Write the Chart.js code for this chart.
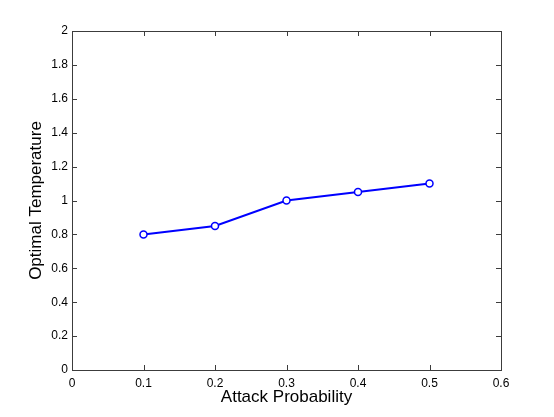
<!DOCTYPE html>
<html>
<head>
<meta charset="utf-8">
<script src="https://cdn.jsdelivr.net/npm/chart.js@4"></script>
<style>
    body { margin: 0; background: #fff; }
    #wrap { width: 554px; height: 417px; position: relative; }
</style>
</head>
<body>
<div id="wrap"><canvas id="chart"></canvas></div>
<script>
// Data
const attackProb = [0.1, 0.2, 0.3, 0.4, 0.5];
const optimalTemp = [0.8, 0.85, 1.0, 1.05, 1.1];

// Tick values and labels
const xTicks = [0, 0.1, 0.2, 0.3, 0.4, 0.5, 0.6];
const xTickLabels = ['0', '0.1', '0.2', '0.3', '0.4', '0.5', '0.6'];
const yTicks = [0, 0.2, 0.4, 0.6, 0.8, 1, 1.2, 1.4, 1.6, 1.8, 2];
const yTickLabels = ['0', '0.2', '0.4', '0.6', '0.8', '1', '1.2', '1.4', '1.6', '1.8', '2'];

const FONT = 'Liberation Sans, Arial, Helvetica, sans-serif';

// Box around the plot and MATLAB style inward ticks
const matlabBox = {
    id: 'matlabBox',
    afterDraw(chart) {
        const ctx = chart.ctx;
        const a = chart.chartArea;
        const xs = chart.scales.x;
        const ys = chart.scales.y;
        const len = 5;
        ctx.save();
        ctx.strokeStyle = '#3c3c3c';
        ctx.lineWidth = 1;
        ctx.beginPath();
        xTicks.forEach(function (v) {
            const px = Math.round(xs.getPixelForValue(v)) + 0.5;
            ctx.moveTo(px, a.bottom);
            ctx.lineTo(px, a.bottom - len);
            ctx.moveTo(px, a.top);
            ctx.lineTo(px, a.top + len);
        });
        yTicks.forEach(function (v) {
            const py = Math.round(ys.getPixelForValue(v)) + 0.5;
            ctx.moveTo(a.left, py);
            ctx.lineTo(a.left + len, py);
            ctx.moveTo(a.right, py);
            ctx.lineTo(a.right - len, py);
        });
        ctx.stroke();
        ctx.strokeRect(Math.round(a.left) + 0.5, Math.round(a.top) + 0.5,
            Math.round(a.right - a.left), Math.round(a.bottom - a.top));
        ctx.restore();
    }
};

const ctx = document.getElementById('chart').getContext('2d');

new Chart(ctx, {
    type: 'line',
    data: {
        datasets: [{
            data: attackProb.map(function (x, i) { return { x: x, y: optimalTemp[i] }; }),
            borderColor: '#0000ff',
            borderWidth: 2,
            pointRadius: 3.5,
            pointBorderWidth: 1.5,
            pointBorderColor: '#0000ff',
            pointBackgroundColor: '#ffffff',
            tension: 0
        }]
    },
    options: {
        responsive: true,
        maintainAspectRatio: false,
        animation: false,
        layout: {
            padding: { left: 0, right: 53, top: 31, bottom: 0 }
        },
        plugins: {
            legend: { display: false },
            tooltip: { enabled: false }
        },
        scales: {
            x: {
                type: 'linear',
                min: 0,
                max: 0.6,
                afterBuildTicks: function (scale) {
                    scale.ticks = xTicks.map(function (v) { return { value: v }; });
                },
                afterFit: function (scale) { scale.height = 47; },
                grid: { display: false, drawTicks: false },
                border: { display: false },
                ticks: {
                    color: '#000',
                    padding: 6,
                    maxRotation: 0,
                    font: { family: FONT, size: 12 },
                    callback: function (v) { return xTickLabels[xTicks.indexOf(v)]; }
                },
                title: {
                    display: true,
                    text: 'Attack Probability',
                    color: '#000',
                    font: { family: FONT, size: 17 },
                    padding: { top: 0, bottom: 9 }
                }
            },
            y: {
                type: 'linear',
                min: 0,
                max: 2,
                afterBuildTicks: function (scale) {
                    scale.ticks = yTicks.map(function (v) { return { value: v }; });
                },
                afterFit: function (scale) { scale.width = 72; },
                grid: { display: false, drawTicks: false },
                border: { display: false },
                ticks: {
                    color: '#000',
                    padding: 4,
                    font: { family: FONT, size: 12 },
                    callback: function (v) { return yTickLabels[yTicks.indexOf(v)]; }
                },
                title: {
                    display: true,
                    text: 'Optimal Temperature',
                    color: '#000',
                    font: { family: FONT, size: 17 },
                    padding: { top: 26, bottom: 0 }
                }
            }
        }
    },
    plugins: [matlabBox]
});
</script>
</body>
</html>
